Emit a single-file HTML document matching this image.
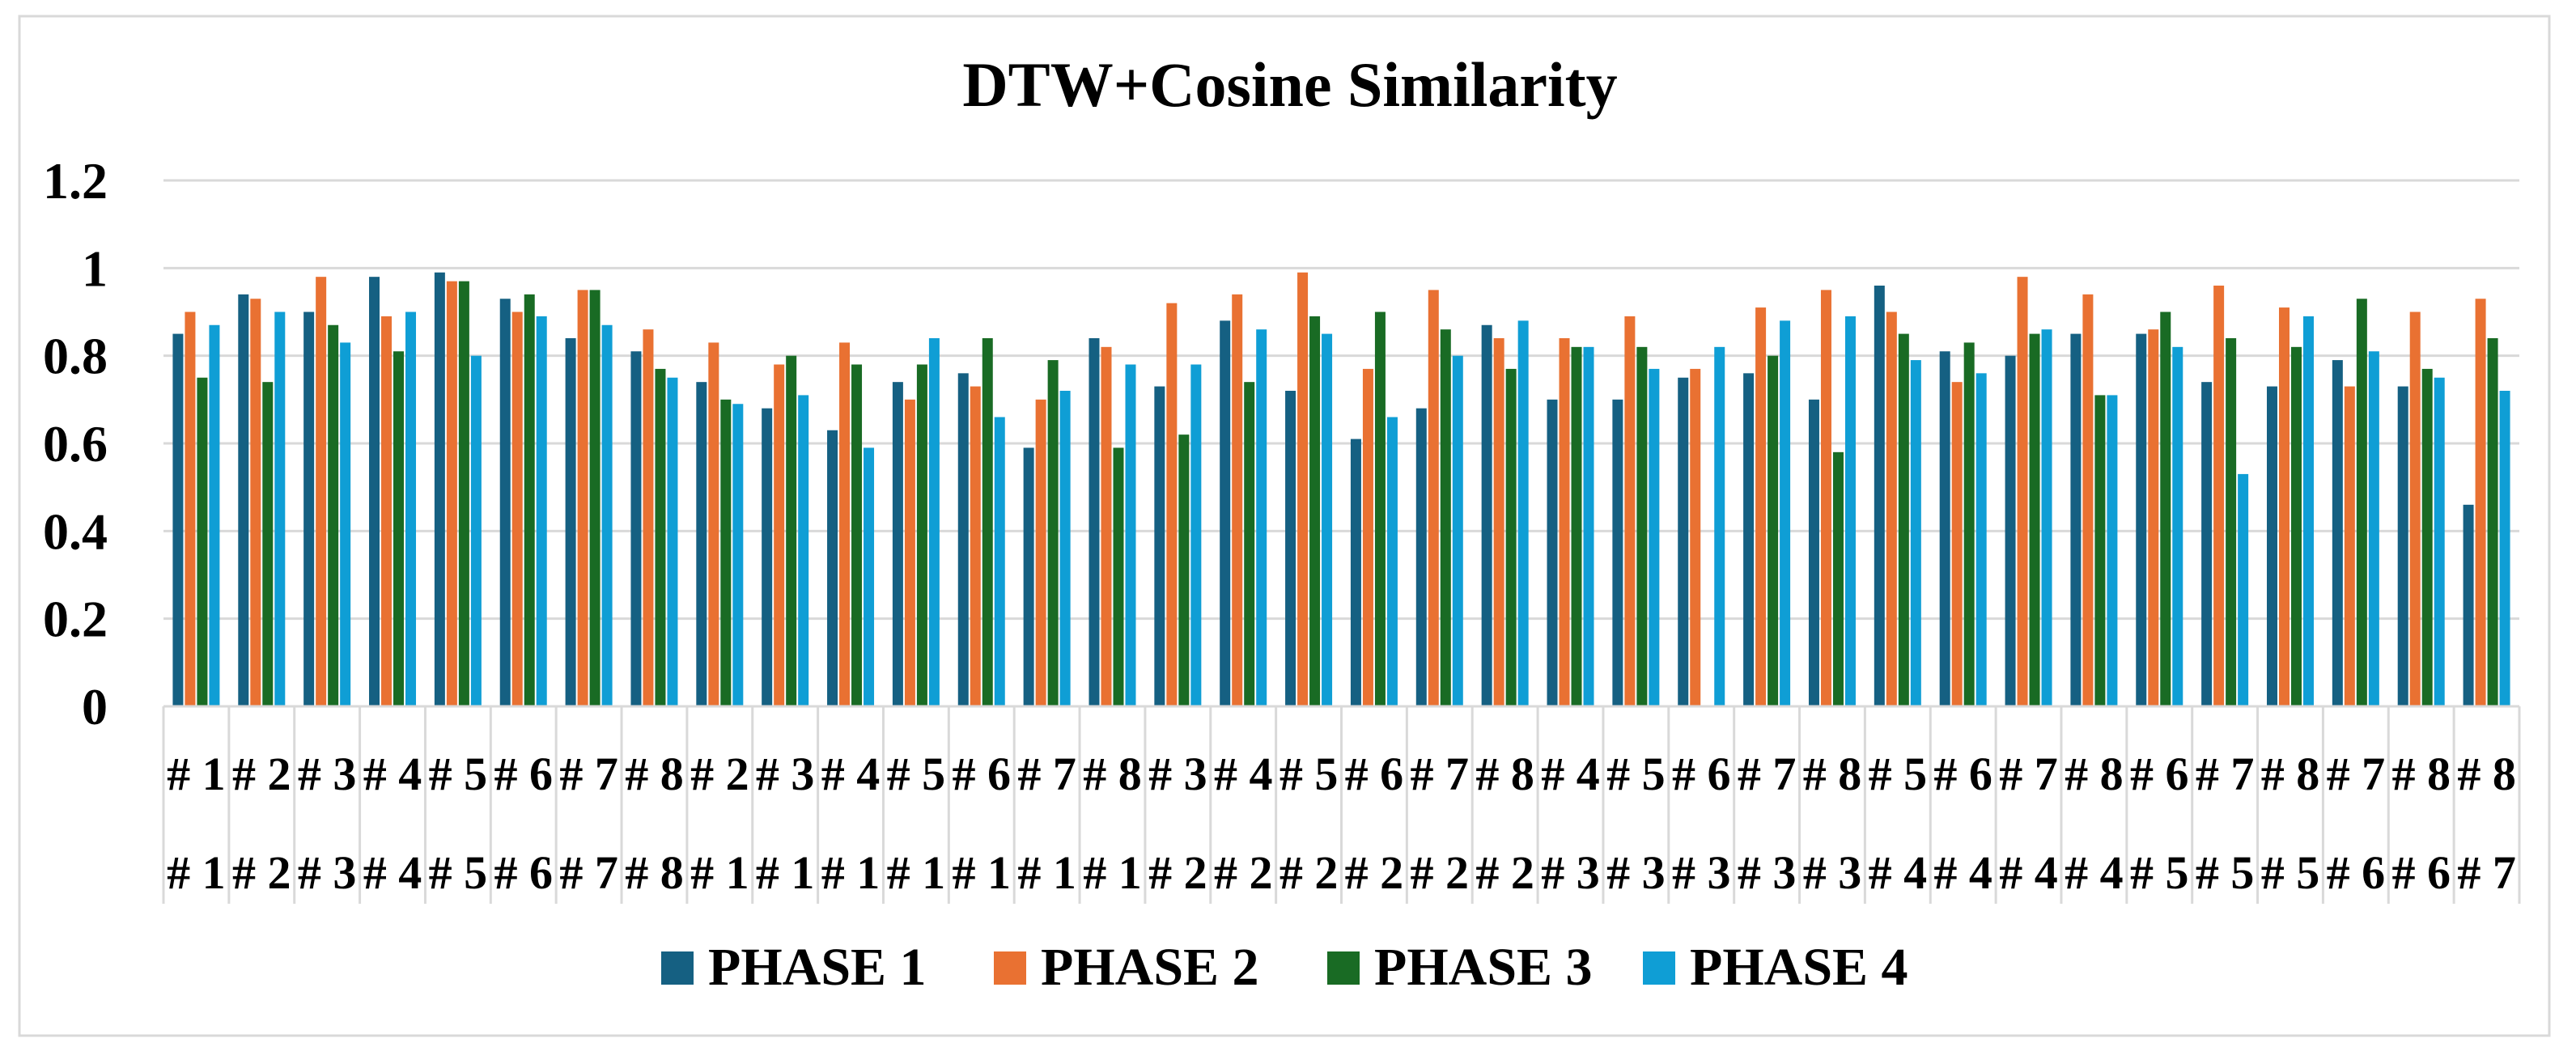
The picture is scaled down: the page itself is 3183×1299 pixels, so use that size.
<!DOCTYPE html>
<html><head><meta charset="utf-8"><style>
html,body{margin:0;padding:0;background:#fff;}
svg{display:block;font-family:"Liberation Serif",serif;}
</style></head><body>
<svg id="chart" width="3183" height="1299" viewBox="0 0 3183 1299" xmlns="http://www.w3.org/2000/svg">
<rect x="24" y="20" width="3126" height="1260" fill="#fff" stroke="#d9d9d9" stroke-width="3"/>
<text x="1594" y="131" font-size="78" font-weight="bold" text-anchor="middle" fill="#000">DTW+Cosine Similarity</text>
<g id="grid"></g><g id="bars"></g><g id="xaxis"></g><g id="legend"></g>
</svg>
<script>
const rowA = ["1","2","3","4","5","6","7","8","2","3","4","5","6","7","8","3","4","5","6","7","8","4","5","6","7","8","5","6","7","8","6","7","8","7","8","8"];
const rowB = ["1","2","3","4","5","6","7","8","1","1","1","1","1","1","1","2","2","2","2","2","2","3","3","3","3","3","4","4","4","4","5","5","5","6","6","7"];
const phase1 = [0.85,0.94,0.90,0.98,0.99,0.93,0.84,0.81,0.74,0.68,0.63,0.74,0.76,0.59,0.84,0.73,0.88,0.72,0.61,0.68,0.87,0.70,0.70,0.75,0.76,0.70,0.96,0.81,0.80,0.85,0.85,0.74,0.73,0.79,0.73,0.46];
const phase2 = [0.90,0.93,0.98,0.89,0.97,0.90,0.95,0.86,0.83,0.78,0.83,0.70,0.73,0.70,0.82,0.92,0.94,0.99,0.77,0.95,0.84,0.84,0.89,0.77,0.91,0.95,0.90,0.74,0.98,0.94,0.86,0.96,0.91,0.73,0.90,0.93];
const phase3 = [0.75,0.74,0.87,0.81,0.97,0.94,0.95,0.77,0.70,0.80,0.78,0.78,0.84,0.79,0.59,0.62,0.74,0.89,0.90,0.86,0.77,0.82,0.82,0,0.80,0.58,0.85,0.83,0.85,0.71,0.90,0.84,0.82,0.93,0.77,0.84];
const phase4 = [0.87,0.90,0.83,0.90,0.80,0.89,0.87,0.75,0.69,0.71,0.59,0.84,0.66,0.72,0.78,0.78,0.86,0.85,0.66,0.80,0.88,0.82,0.77,0.82,0.88,0.89,0.79,0.76,0.86,0.71,0.82,0.53,0.89,0.81,0.75,0.72];
const yTicks = ["0","0.2","0.4","0.6","0.8","1","1.2"];
const seriesNames = ["PHASE 1","PHASE 2","PHASE 3","PHASE 4"];
const seriesColors = ["#156082","#E97132","#196B24","#0F9ED5"];

const NS="http://www.w3.org/2000/svg";
const L=202,R=3113,Y0=873,YTOP=223,VMAX=1.2;
const n=rowA.length, cw=(R-L)/n;
const y=v=>Y0-(v/VMAX)*(Y0-YTOP);
const xc=i=>L+cw*(i+0.5);
function mk(tag,attrs,parent){const e=document.createElementNS(NS,tag);for(const k in attrs)e.setAttribute(k,attrs[k]);parent.appendChild(e);return e;}
const grid=document.getElementById('grid'),bars=document.getElementById('bars'),xa=document.getElementById('xaxis'),lg=document.getElementById('legend');
yTicks.forEach(t=>{const v=parseFloat(t);
  if(v>0){const g=mk('line',{x1:L,x2:R,y1:y(v),y2:y(v),stroke:'#d9d9d9','stroke-width':3},grid);
  
  }
  const tx=mk('text',{x:133,y:y(v)+22,'font-size':64,'font-weight':'bold','text-anchor':'end',fill:'#000'},grid);
  tx.textContent=t;
  
  
});
const ax=mk('line',{x1:L,x2:R,y1:Y0,y2:Y0,stroke:'#d9d9d9','stroke-width':3},xa);


for(let i=0;i<=n;i++){const s=mk('line',{x1:L+cw*i,x2:L+cw*i,y1:Y0,y2:1117,stroke:'#d9d9d9','stroke-width':3},xa);
  
  }
const series=[phase1,phase2,phase3,phase4];
const bw=13,step=15;
series.forEach((arr,s)=>{arr.forEach((v,i)=>{
  if(!(v>0))return;
  const bx=xc(i)-2*step+s*step+1;
  const b=mk('rect',{x:bx,y:y(v),width:bw,height:Y0-y(v),fill:seriesColors[s]},bars);
  
  
});});
rowA.forEach((a,i)=>{
  const t1=mk('text',{x:xc(i),y:976,'font-size':58,'font-weight':'bold','text-anchor':'middle',fill:'#000','xml:space':'preserve'},xa);
  t1.textContent='# '+a;
  
  
  const t2=mk('text',{x:xc(i),y:1098,'font-size':58,'font-weight':'bold','text-anchor':'middle',fill:'#000'},xa);
  t2.textContent='# '+rowB[i];
  
  
});
const lx=[817,1228,1640,2030];
seriesNames.forEach((nm,s)=>{
  const r=mk('rect',{x:lx[s],y:1176,width:40,height:41,fill:seriesColors[s]},lg);
  
  
  const t=mk('text',{x:lx[s]+58,y:1217,'font-size':66,'font-weight':'bold',fill:'#000'},lg);
  t.textContent=nm;
  
  
});
</script>
</body></html>
